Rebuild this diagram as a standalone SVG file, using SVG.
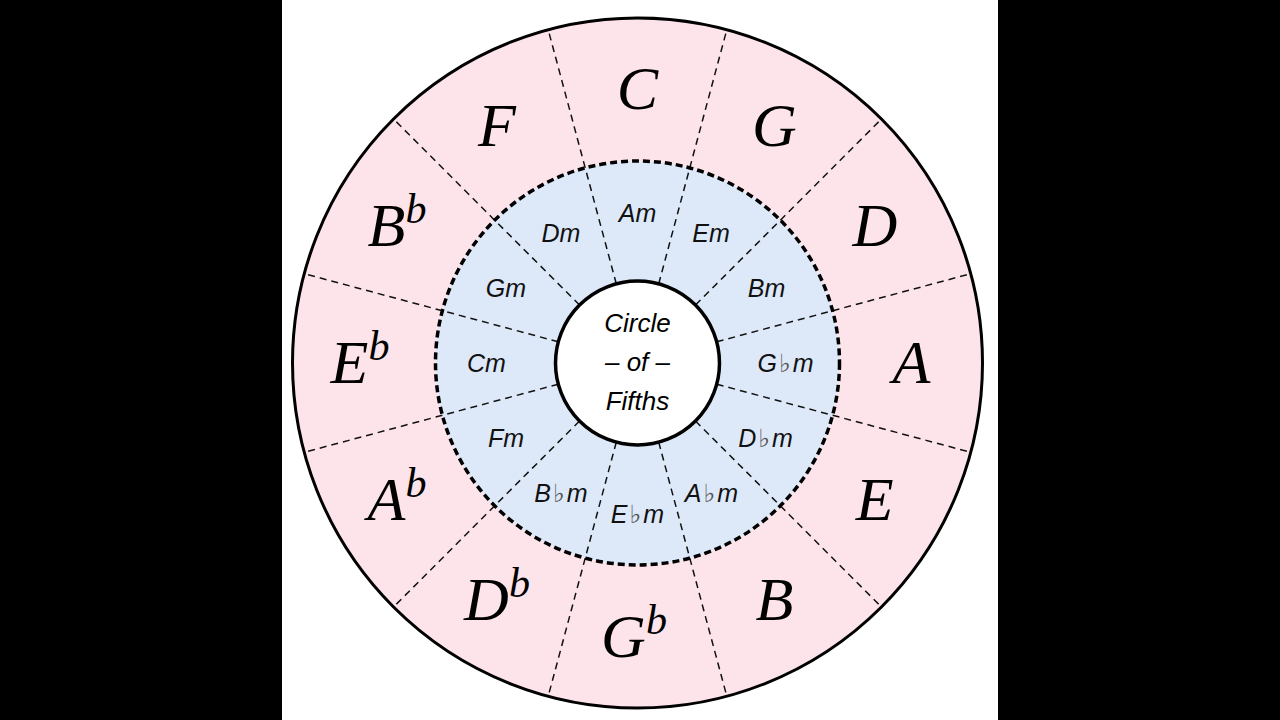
<svg xmlns="http://www.w3.org/2000/svg" width="1280" height="720" viewBox="0 0 1280 720">
<style>
.maj{font-family:"Liberation Serif","Times New Roman",serif;font-style:italic;font-size:62px;fill:#000;text-anchor:middle}
.sup{font-size:42px}
.min{font-family:"Liberation Sans",Arial,sans-serif;font-style:italic;font-size:25px;fill:#111;text-anchor:middle}
.flat{font-family:"DejaVu Sans",sans-serif;font-style:italic;font-size:25px;fill:#555}
.ctr{font-family:"Liberation Sans",Arial,sans-serif;font-style:italic;font-size:26px;fill:#000;text-anchor:middle}
.rad{stroke:#111;stroke-width:1.5;stroke-dasharray:7 5;fill:none}
</style>
<rect x="0" y="0" width="1280" height="720" fill="#000"/>
<rect x="282" y="0" width="716" height="720" fill="#fff"/>
<g id="rings">
<circle cx="637.5" cy="363" r="345" fill="#fde4ea" stroke="#000" stroke-width="3"/>
<circle cx="637.5" cy="363" r="202" fill="#dde9f9"/>
</g>
<g id="connectors" transform="translate(637.5,363)">
<line class="rad" x1="0" y1="-82" x2="0" y2="-345" transform="rotate(15)"/>
<line class="rad" x1="0" y1="-82" x2="0" y2="-345" transform="rotate(45)"/>
<line class="rad" x1="0" y1="-82" x2="0" y2="-345" transform="rotate(75)"/>
<line class="rad" x1="0" y1="-82" x2="0" y2="-345" transform="rotate(105)"/>
<line class="rad" x1="0" y1="-82" x2="0" y2="-345" transform="rotate(135)"/>
<line class="rad" x1="0" y1="-82" x2="0" y2="-345" transform="rotate(165)"/>
<line class="rad" x1="0" y1="-82" x2="0" y2="-345" transform="rotate(195)"/>
<line class="rad" x1="0" y1="-82" x2="0" y2="-345" transform="rotate(225)"/>
<line class="rad" x1="0" y1="-82" x2="0" y2="-345" transform="rotate(255)"/>
<line class="rad" x1="0" y1="-82" x2="0" y2="-345" transform="rotate(285)"/>
<line class="rad" x1="0" y1="-82" x2="0" y2="-345" transform="rotate(315)"/>
<line class="rad" x1="0" y1="-82" x2="0" y2="-345" transform="rotate(345)"/>
<circle cx="0" cy="0" r="202" fill="none" stroke="#000" stroke-width="3.5" stroke-dasharray="7 4"/>
</g>
<g id="center">
<circle cx="637.5" cy="363" r="82" fill="#fff" stroke="#000" stroke-width="3.5"/>
<text class="ctr" x="637.5" y="332">Circle</text>
<text class="ctr" x="637.5" y="371">– of –</text>
<text class="ctr" x="637.5" y="410">Fifths</text>
</g>
<g id="major-C"><text class="maj" x="637.5" y="109">C</text></g>
<g id="major-G"><text class="maj" x="774.5" y="146">G</text></g>
<g id="major-D"><text class="maj" x="874.8" y="246">D</text></g>
<g id="major-A"><text class="maj" x="911.5" y="383">A</text></g>
<g id="major-E"><text class="maj" x="874.8" y="520">E</text></g>
<g id="major-B"><text class="maj" x="774.5" y="620">B</text></g>
<g id="major-Gb"><text class="maj" x="634" y="657">G<tspan class="sup" dy="-23">b</tspan></text></g>
<g id="major-Db"><text class="maj" x="497" y="620">D<tspan class="sup" dy="-23">b</tspan></text></g>
<g id="major-Ab"><text class="maj" x="397" y="520">A<tspan class="sup" dy="-23">b</tspan></text></g>
<g id="major-Eb"><text class="maj" x="360" y="383">E<tspan class="sup" dy="-23">b</tspan></text></g>
<g id="major-Bb"><text class="maj" x="397" y="246">B<tspan class="sup" dy="-23">b</tspan></text></g>
<g id="major-F"><text class="maj" x="497" y="146">F</text></g>
<g id="minor-Am"><text class="min" x="637.5" y="222">Am</text></g>
<g id="minor-Em"><text class="min" x="711" y="242">Em</text></g>
<g id="minor-Bm"><text class="min" x="766.5" y="297">Bm</text></g>
<g id="minor-Gbm"><text class="min" x="785.5" y="372">G<tspan class="flat" dx="2">♭</tspan><tspan dx="2">m</tspan></text></g>
<g id="minor-Dbm"><text class="min" x="765.5" y="447">D<tspan class="flat" dx="2">♭</tspan><tspan dx="2">m</tspan></text></g>
<g id="minor-Abm"><text class="min" x="711.5" y="502">A<tspan class="flat" dx="2">♭</tspan><tspan dx="2">m</tspan></text></g>
<g id="minor-Ebm"><text class="min" x="637.5" y="523">E<tspan class="flat" dx="2">♭</tspan><tspan dx="2">m</tspan></text></g>
<g id="minor-Bbm"><text class="min" x="561" y="502">B<tspan class="flat" dx="2">♭</tspan><tspan dx="2">m</tspan></text></g>
<g id="minor-Fm"><text class="min" x="506" y="447">Fm</text></g>
<g id="minor-Cm"><text class="min" x="486.5" y="372">Cm</text></g>
<g id="minor-Gm"><text class="min" x="506" y="297">Gm</text></g>
<g id="minor-Dm"><text class="min" x="561" y="242">Dm</text></g>
</svg>
